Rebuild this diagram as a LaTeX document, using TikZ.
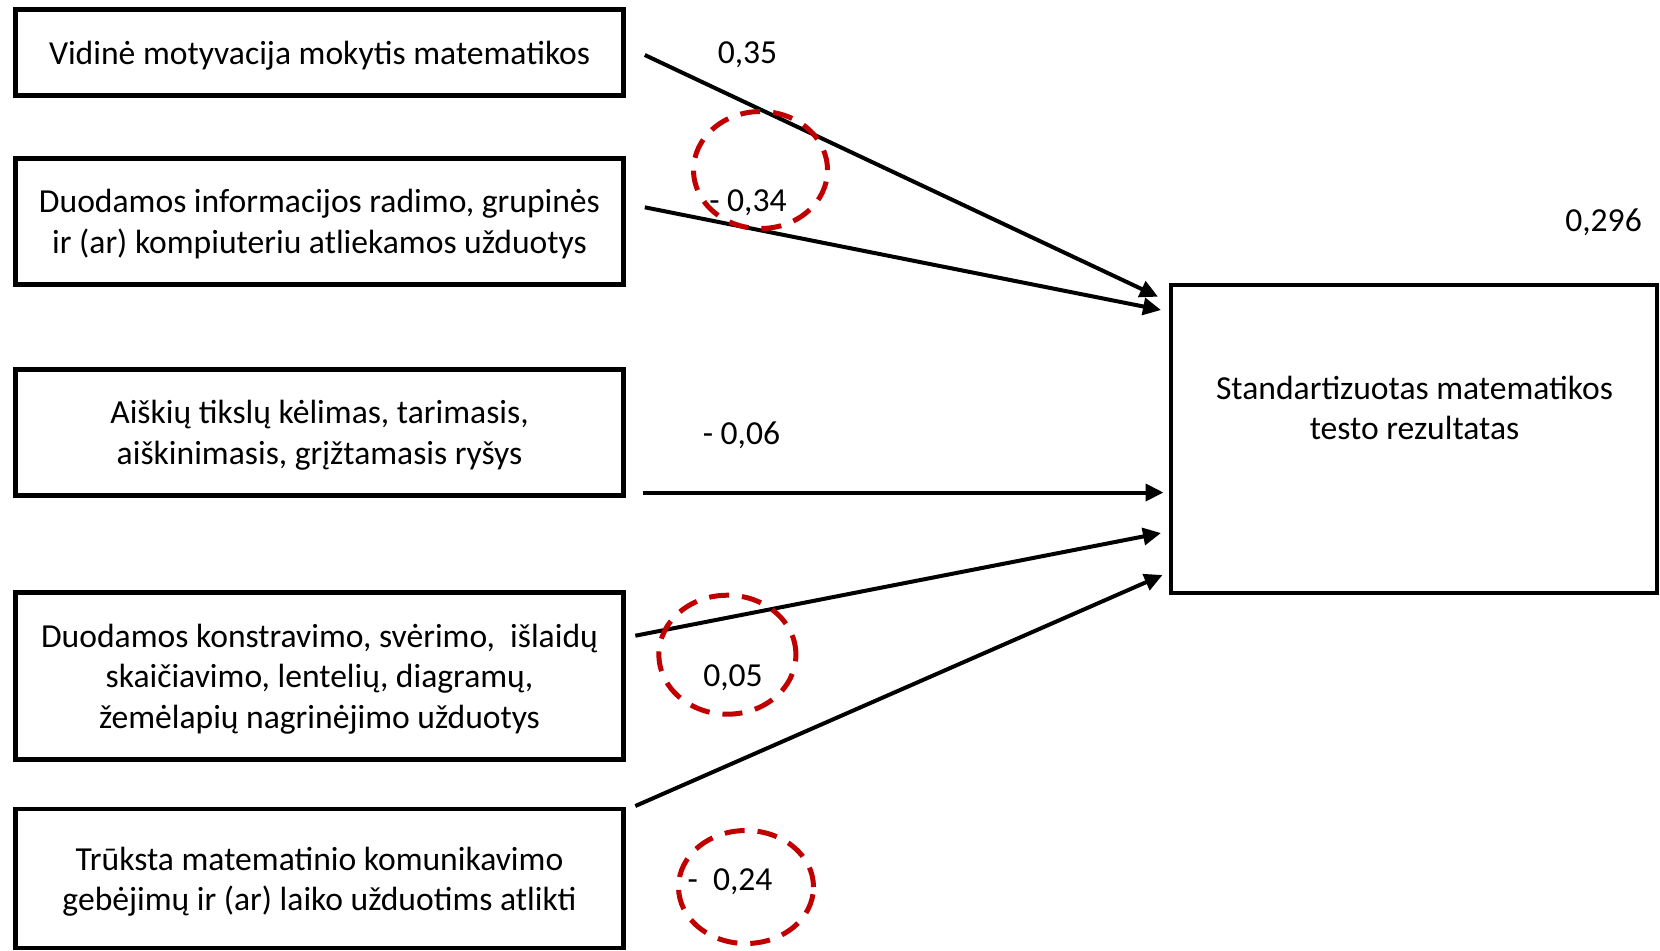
\documentclass[tikz,border=0pt]{standalone}
\usepackage{fontspec}
\setmainfont{Carlito}
\usetikzlibrary{arrows.meta,calc}
\definecolor{dashred}{RGB}{192,0,0}
\begin{document}
\begin{tikzpicture}[x=0.5pt,y=-0.5pt,
  every node/.style={font=\fontsize{16.8}{20.2}\selectfont},
  box/.style={draw, line width=2.2pt, align=center, inner sep=0pt, minimum width=304.1pt, text depth=0pt},
  conn/.style={line width=2pt, -{Triangle[length=9pt,width=8.5pt]}},
  coef/.style={anchor=base, inner sep=0pt},
  ring/.style={draw=dashred, line width=2.5pt, dash pattern=on 10pt off 6.5pt}
]
\useasboundingbox (0,0) rectangle (1660,950);

% input boxes
\node[box, minimum height=42.9pt] (b1) at (319.5,52.4) {Vidinė motyvacija mokytis matematikos};
\node[box, minimum height=63.15pt] (b2) at (319.5,221.5) {Duodamos informacijos radimo, grupinės\\ir (ar) kompiuteriu atliekamos užduotys};
\node[box, minimum height=63.15pt] (b3) at (319.5,432.5) {Aiškių tikslų kėlimas, tarimasis,\\aiškinimasis, grįžtamasis ryšys};
\node[box, minimum height=83.35pt] (b4) at (319.5,676) {Duodamos konstravimo, svėrimo,~ išlaidų\\skaičiavimo, lentelių, diagramų,\\žemėlapių nagrinėjimo užduotys};
\node[box, minimum height=69.35pt] (b5) at (319.5,878.6) {Trūksta matematinio komunikavimo\\gebėjimų ir (ar) laiko užduotims atlikti};

% target box
\node[box, minimum width=243pt, minimum height=154pt] (tgt) at (1414,439) {};
\node[align=center, inner sep=0pt, text depth=0pt] (tgtlabel) at (1414.5,408) {Standartizuotas matematikos\\testo rezultatas};

% coefficients
\node[coef] (c1) at (747.5,63.3) {0,35};
\node[coef] (c2) at (748,211.7) {- 0,34};
\node[coef] (c3) at (1603.5,231.5) {0,296};
\node[coef] (c4) at (741.5,444.5) {- 0,06};
\node[coef] (c5) at (733,686.7) {0,05};
\node[coef] (c6) at (730,890) {-~ 0,24};

% connector ends
\coordinate (s1) at (644.8,55);
\coordinate (e1) at (1158,296.7);
\coordinate (s2) at (644.8,207.3);
\coordinate (e2) at (1161,310);
\coordinate (s3) at (642.6,492.5);
\coordinate (e3) at (1163.5,492.5);
\coordinate (s4) at (635.3,635.7);
\coordinate (e4) at (1161,533);
\coordinate (s5) at (635.3,806);
\coordinate (e5) at (1162.5,575);

\draw[conn] (s1) -- (e1);
\draw[conn] (s2) -- (e2);
\draw[conn] (s3) -- (e3);
\draw[conn] (s4) -- (e4);
\draw[conn] (s5) -- (e5);

% dashed red rings
\draw[ring] (760.5,170) ellipse [x radius=33.5pt, y radius=29.25pt];
\draw[ring] (727.4,654.7) ellipse [x radius=34.25pt, y radius=29.75pt];
\draw[ring] (746,887) ellipse [x radius=33.75pt, y radius=28.25pt];
\end{tikzpicture}
\end{document}
